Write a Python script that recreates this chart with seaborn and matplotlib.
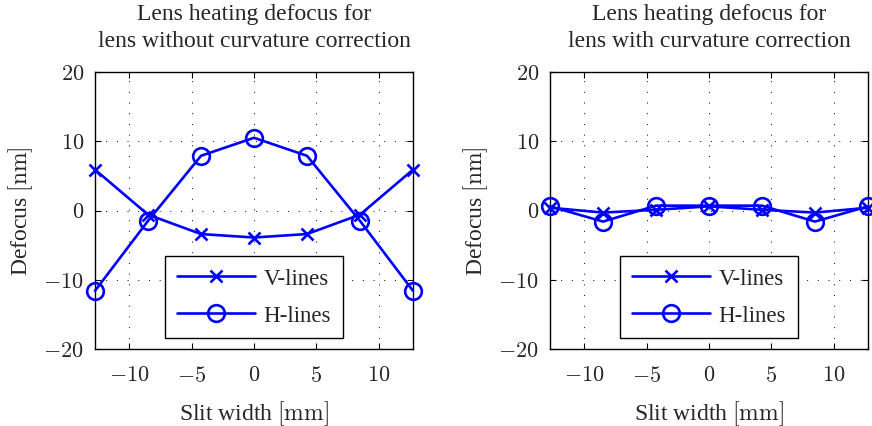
import matplotlib
matplotlib.use("Agg")
import matplotlib.pyplot as plt
import seaborn as sns
import numpy as np
from matplotlib.ticker import FuncFormatter

# Slit positions [mm]
slit_pos = [-12.75, -8.5, -4.25, 0.0, 4.25, 8.5, 12.75]

# Defocus [nm], lens without curvature correction
v_lines_uncorr = [5.9, -0.6, -3.4, -3.9, -3.4, -0.6, 5.9]
h_lines_uncorr = [-11.6, -1.5, 7.9, 10.5, 7.9, -1.5, -11.6]

# Defocus [nm], lens with curvature correction
v_lines_corr = [0.4, -0.3, 0.1, 0.6, 0.1, -0.3, 0.4]
h_lines_corr = [0.6, -1.6, 0.7, 0.7, 0.7, -1.6, 0.6]

titles = ["Lens heating defocus for\nlens without curvature correction",
          "Lens heating defocus for\nlens with curvature correction"]
series_names = ["V-lines", "H-lines"]
x_ticks = [-10, -5, 0, 5, 10]
y_ticks = [-20, -10, 0, 10, 20]

sns.set_style("ticks")
plt.rcParams["font.family"] = ["Liberation Serif", "DejaVu Serif"]
plt.rcParams["mathtext.fontset"] = "cm"

W, H = 872, 427
fig = plt.figure(figsize=(W / 100, H / 100), dpi=100)
ax_l = fig.add_axes([95 / W, 1 - 350 / H, 318 / W, 277 / H])
ax_r = fig.add_axes([550 / W, 1 - 350 / H, 318 / W, 277 / H])

blue = (0, 0, 1)
math_fmt = FuncFormatter(lambda v, p: f"${v:g}$")

for ax, v_vals, h_vals, title in [(ax_l, v_lines_uncorr, h_lines_uncorr, titles[0]),
                                  (ax_r, v_lines_corr, h_lines_corr, titles[1])]:
    sns.lineplot(x=slit_pos, y=v_vals, ax=ax, color=blue, linewidth=1.9,
                 marker="x", markersize=8.5, markeredgewidth=1.9,
                 markeredgecolor=blue, clip_on=False, zorder=3)
    sns.lineplot(x=slit_pos, y=h_vals, ax=ax, color=blue, linewidth=1.9,
                 marker="o", markersize=12, markeredgewidth=1.9,
                 markeredgecolor=blue, markerfacecolor="none",
                 clip_on=False, zorder=3)

    ax.set_xlim(-12.75, 12.75)
    ax.set_ylim(-20, 20)
    ax.set_xticks(x_ticks)
    ax.set_yticks(y_ticks)
    ax.xaxis.set_major_formatter(math_fmt)
    ax.yaxis.set_major_formatter(math_fmt)
    ax.tick_params(direction="in", top=True, right=True, length=4, width=0.8,
                   labelsize=16, color="black")
    ax.tick_params(axis="x", pad=12)
    ax.tick_params(axis="y", pad=8)
    ax.grid(True, color="black", linestyle=(0, (1, 10)), linewidth=0.7)
    ax.set_axisbelow(True)
    for sp in ax.spines.values():
        sp.set_color("black")
        sp.set_linewidth(1.0)
        sp.set_visible(True)

    ax.set_title(title, fontsize=17, pad=19, linespacing=1.35)
    ax.set_xlabel(r"Slit width $[\mathrm{mm}]$", fontsize=17, labelpad=9)
    ax.set_ylabel(r"Defocus $[\mathrm{nm}]$", fontsize=17, labelpad=6)

    handles = ax.get_lines()[:2]
    leg = ax.legend(handles, series_names, loc="lower center", fontsize=16.5,
                    frameon=True, fancybox=False, framealpha=1,
                    edgecolor="black", handlelength=3.4, handletextpad=0.4,
                    labelspacing=0.72, borderpad=0.5, borderaxespad=0.5)
    leg.get_frame().set_linewidth(1.0)

fig.savefig("out.png", dpi=100)
